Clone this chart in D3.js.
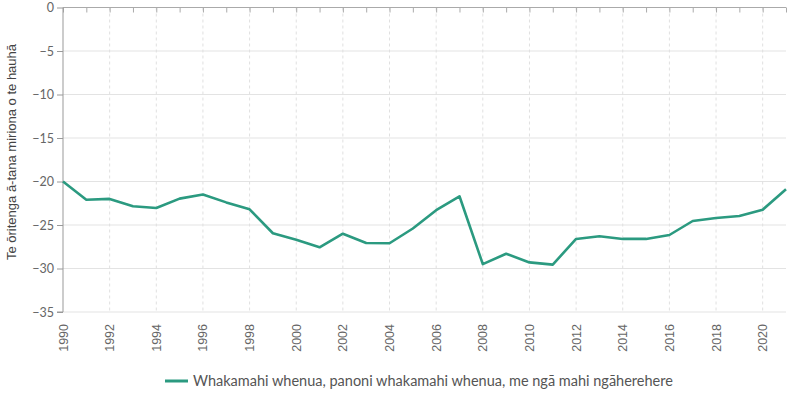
<!DOCTYPE html>
<html>
<head>
<meta charset="utf-8">
<script src="https://cdn.jsdelivr.net/npm/d3@7"></script>
<style>
  body { margin: 0; background: #fff; }
  svg { display: block; }
</style>
</head>
<body>
<svg id="chart"></svg>
<script>
// data
const years = [1990, 1991, 1992, 1993, 1994, 1995, 1996, 1997, 1998, 1999,
               2000, 2001, 2002, 2003, 2004, 2005, 2006, 2007, 2008, 2009,
               2010, 2011, 2012, 2013, 2014, 2015, 2016, 2017, 2018, 2019,
               2020, 2021];
const values = [-20.0, -22.1, -22.0, -22.85, -23.05, -21.97, -21.5, -22.4, -23.2, -25.95,
                -26.7, -27.56, -26.0, -27.07, -27.1, -25.4, -23.3, -21.7, -29.5, -28.3,
                -29.3, -29.55, -26.6, -26.3, -26.6, -26.6, -26.15, -24.54, -24.2, -23.97,
                -23.24, -20.9];
const yTicks = [0, -5, -10, -15, -20, -25, -30, -35];
const gridYears = [1992, 1994, 1996, 1998, 2000, 2002, 2004, 2006, 2008, 2010,
                   2012, 2014, 2016, 2018, 2020];
const labelYears = [1990, ...gridYears];
const seriesName = "Whakamahi whenua, panoni whakamahi whenua, me ngā mahi ngāherehere";
const yTitle = "Te ōritenga ā-tana miriona o te hauhā";

const width = 795;
const height = 393;
const plotLeft = 63, plotRight = 786, plotTop = 7.5, plotBottom = 312;
const lineColor = "#2b9a80";

let svg = d3.select("#chart")
    .attr("width", width)
    .attr("height", height);

let x = d3.scaleLinear().domain([1990, 2021]).range([plotLeft, plotRight]);
let y = d3.scaleLinear().domain([-35, 0]).range([plotBottom, plotTop]);

// horizontal grid
svg.append("g")
    .selectAll("line")
    .data(yTicks)
    .join("line")
    .attr("x1", plotLeft).attr("x2", plotRight)
    .attr("y1", d => y(d)).attr("y2", d => y(d))
    .attr("stroke", "#e3e3e3")
    .attr("stroke-width", 1);

// vertical dashed grid
svg.append("g")
    .selectAll("line")
    .data(gridYears)
    .join("line")
    .attr("x1", d => x(d)).attr("x2", d => x(d))
    .attr("y1", plotTop).attr("y2", plotBottom)
    .attr("stroke", "#e0e0e0")
    .attr("stroke-dasharray", "3,3");

// top axis with yearly ticks
let axisTop = d3.axisBottom(x)
    .tickValues(years)
    .tickSize(5)
    .tickFormat("");
let gTop = svg.append("g")
    .attr("transform", `translate(0, ${plotTop})`)
    .call(axisTop);
gTop.select(".domain").attr("stroke", "#aaa").attr("d", `M${plotLeft},0H${plotRight}`);
gTop.selectAll(".tick line").attr("stroke", "#aaa");

// left axis
let axisY = d3.axisLeft(y)
    .tickValues(yTicks)
    .tickSize(6)
    .tickFormat(d => d === 0 ? "0" : "\u2212" + Math.abs(d));
let gY = svg.append("g")
    .attr("transform", `translate(${plotLeft}, 0)`)
    .call(axisY);
gY.select(".domain").attr("stroke", "#999").attr("d", `M-6,${plotBottom}H0V${plotTop}`);
gY.selectAll(".tick line").attr("stroke", "#999");
gY.selectAll(".tick text")
    .attr("fill", "#666")
    .style("font-family", "Lato, sans-serif")
    .style("font-size", "12.5px")
    .attr("x", -9);

// x labels (rotated)
svg.append("g")
    .selectAll("text")
    .data(labelYears)
    .join("text")
    .attr("transform", d => `translate(${x(d) + 4.5}, ${plotBottom + 12}) rotate(-90)`)
    .attr("text-anchor", "end")
    .attr("fill", "#666")
    .style("font-family", "'Liberation Sans', Arial, sans-serif")
    .style("font-size", "12.5px")
    .text(d => d);

// y title
svg.append("text")
    .attr("transform", `translate(16, 152) rotate(-90)`)
    .attr("text-anchor", "middle")
    .attr("fill", "#444")
    .style("font-family", "'Liberation Sans', Arial, sans-serif")
    .style("font-size", "13px")
    .text(yTitle);

// series line
let line = d3.line()
    .x((d, i) => x(years[i]))
    .y(d => y(d));
svg.append("path")
    .datum(values)
    .attr("d", line)
    .attr("fill", "none")
    .attr("stroke", lineColor)
    .attr("stroke-width", 2.6)
    .attr("stroke-linejoin", "round");

// legend
let legend = svg.append("g").attr("transform", "translate(165, 381)");
legend.append("line")
    .attr("x1", 0).attr("x2", 23)
    .attr("stroke", lineColor)
    .attr("stroke-width", 3);
legend.append("text")
    .attr("x", 28)
    .attr("y", 5)
    .attr("fill", "#555")
    .style("font-family", "Lato, sans-serif")
    .style("font-size", "14.5px")
    .text(seriesName);
</script>
</body>
</html>
